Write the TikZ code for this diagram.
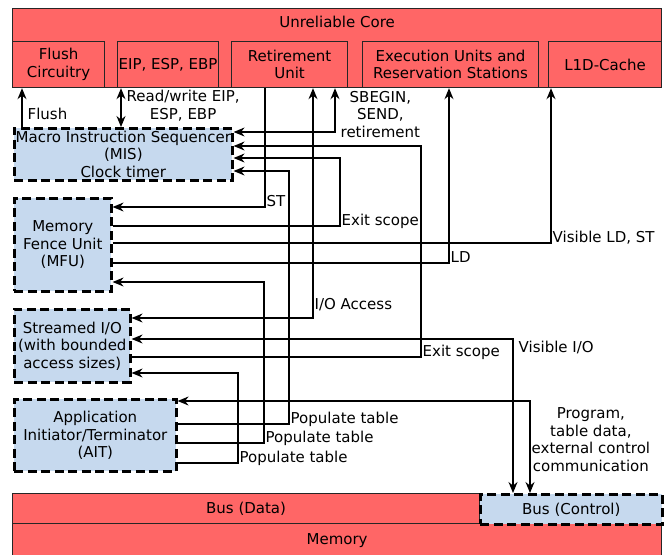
\documentclass[tikz,border=0pt]{standalone}
\usepackage{fontspec}
\setmainfont{DejaVu Sans}
\usetikzlibrary{positioning,arrows.meta}
\definecolor{coreRed}{RGB}{255,102,102}
\definecolor{ctrlBlue}{RGB}{198,217,238}

\begin{document}
\begin{tikzpicture}[
        x=1pt, y=-1pt,
        every node/.style={font=\fontsize{15}{17.5}\selectfont},
        unit/.style={draw=black!85, line width=1.2pt, fill=coreRed, anchor=north west, inner sep=0pt, align=center},
        trusted/.style={draw, line width=2.6pt, dash pattern=on 9pt off 4.5pt, fill=ctrlBlue, anchor=north west, inner sep=0pt, align=center},
        wire/.style={line width=1.3pt, -{Stealth[length=11pt,width=9pt]}},
        bothwire/.style={line width=1.3pt, {Stealth[length=11pt,width=9pt]}-{Stealth[length=11pt,width=9pt]}},
        tag/.style={inner sep=1pt, align=center},
        cornertag/.style={tag, pos=0.5, anchor=base west, yshift=1pt}
    ]
    \useasboundingbox (0,0) rectangle (671,554);

    \node[unit, minimum width=649, minimum height=79] (core) at (12,8) {};
    \node[below=5pt of core.north] (coretitle) {Unreliable Core};
    \node[unit, minimum width=92, minimum height=46] (flush) at (12,41) {Flush\\Circuitry};
    \node[unit, minimum width=101, minimum height=46] (eip) at (117,41) {EIP, ESP, EBP};
    \node[unit, minimum width=116, minimum height=46] (ret) at (231,41) {Retirement\\Unit};
    \node[unit, minimum width=176, minimum height=46] (exec) at (362,41) {Execution Units and\\Reservation Stations};
    \node[unit, minimum width=113, minimum height=46] (l1d) at (548,41) {L1D-Cache};

    \node[trusted, minimum width=218, minimum height=52] (mis) at (13,127) {Macro Instruction Sequencer\\(MIS)\\Clock timer};
    \node[trusted, minimum width=97, minimum height=93] (mfu) at (13,197) {Memory\\Fence Unit\\(MFU)};
    \node[trusted, minimum width=116, minimum height=73] (sio) at (13,308) {Streamed I/O\\(with bounded\\access sizes)};
    \node[trusted, minimum width=162, minimum height=72] (ait) at (13,398) {Application\\Initiator/Terminator\\(AIT)};

    \node[unit, minimum width=467, minimum height=30] (busdata) at (12,493) {Bus (Data)};
    \node[unit, minimum width=649, minimum height=34] (memory) at (12,523) {Memory};
    \node[trusted, minimum width=182, minimum height=30] (busctrl) at (479,493) {Bus (Control)};

    \draw[wire] (mis.north -| 22,0) -- node[tag, right, pos=0.35, xshift=4pt] {Flush} (flush.south -| 22,0);
    \draw[bothwire] (mis.north -| 121,0) -- node[tag, right, pos=0.55, xshift=4pt] {Read/write EIP,\\ESP, EBP} (eip.south -| 121,0);
    \draw[bothwire] (mis.east |- 0,132) -| node[tag, right, pos=0.7, xshift=4pt] {SBEGIN,\\SEND,\\retirement} (ret.south -| 335,0);
    \draw[bothwire] (sio.east |- 0,318) -| node[tag, right, pos=0.53] {I/O Access} (ret.south -| 313,0);
    \draw[wire] (ret.south -| 265,0) |- node[cornertag] {ST} (mfu.east |- 0,207);

    \draw[wire] (mfu.east |- 0,226) -| node[cornertag] {Exit scope} (340,158) -- (mis.east |- 0,158);
    \draw[wire] (mfu.east |- 0,243) -| node[cornertag] {Visible LD, ST} (l1d.south -| 551,0);
    \draw[wire] (mfu.east |- 0,263) -| node[cornertag] {LD} (exec.south -| 449,0);

    \draw[wire] (sio.east |- 0,357) -| node[cornertag] {Exit scope} (421,146) -- (mis.east |- 0,146);
    \draw[bothwire] (sio.east |- 0,339) -| node[tag, pos=0.5, anchor=north west, xshift=4pt] {Visible I/O} (busctrl.north -| 513,0);
    \draw[bothwire] (ait.east |- 0,401) -| node[tag, right, pos=0.71] {Program,\\table data,\\external control\\communication} (busctrl.north -| 530,0);

    \draw[wire] (ait.east |- 0,424) -| node[cornertag] {Populate table} (289,171) -- (mis.east |- 0,171);
    \draw[wire] (ait.east |- 0,443) -| node[cornertag] {Populate table} (264,282) -- (mfu.east |- 0,282);
    \draw[wire] (ait.east |- 0,463) -| node[cornertag] {Populate table} (238,373) -- (sio.east |- 0,373);
\end{tikzpicture}
\end{document}
